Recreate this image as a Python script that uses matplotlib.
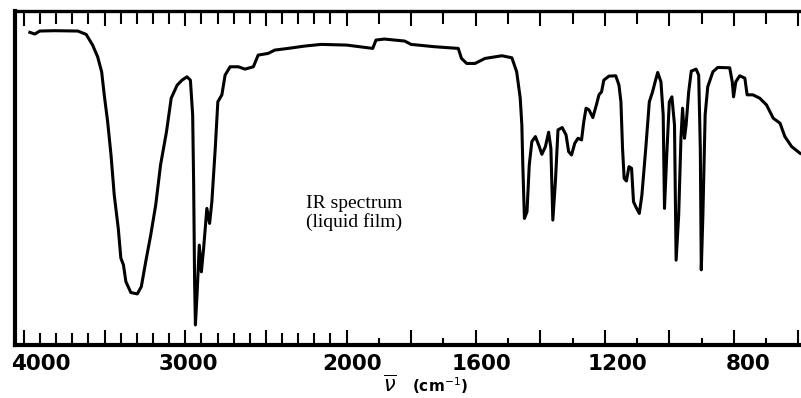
import numpy as np
import matplotlib
matplotlib.use("Agg")
import matplotlib.pyplot as plt

# wavenumber (cm-1) and % transmittance
wavenumber = [
    3963, 3932, 3902, 3809, 3666, 3614, 3574, 3543, 3518, 3502,
    3481, 3460, 3440, 3415, 3399, 3383, 3368, 3337, 3297, 3272,
    3245, 3214, 3183, 3153, 3116, 3087, 3050, 3020, 2989, 2968,
    2954, 2948, 2942, 2937, 2927, 2913, 2900, 2886, 2866, 2849,
    2835, 2814, 2798, 2773, 2753, 2722, 2671, 2630, 2578, 2548,
    2486, 2445, 2363, 2260, 2158, 2000, 1919, 1909, 1883, 1820,
    1800, 1727, 1654, 1644, 1628, 1602, 1571, 1519, 1488, 1473,
    1462, 1457, 1454, 1449, 1441, 1434, 1426, 1415, 1403, 1395,
    1384, 1374, 1367, 1361, 1353, 1345, 1332, 1320, 1312, 1303,
    1293, 1283, 1272, 1265, 1258, 1249, 1237, 1226, 1218, 1210,
    1203, 1187, 1166, 1156, 1150, 1145, 1140, 1133, 1125, 1117,
    1111, 1104, 1093, 1085, 1073, 1062, 1052, 1044, 1036, 1026,
    1019, 1015, 1008, 1000, 992, 984, 979, 971, 964, 959,
    953, 948, 940, 932, 917, 909, 904, 901, 896, 889,
    881, 865, 850, 813, 805, 801, 794, 782, 766, 759,
    741, 720, 699, 678, 657, 642, 621, 595,
]
transmittance = [
    93.6, 93.1, 94.0, 94.1, 94.0, 93.0, 89.8, 86.3, 81.8, 74.9,
    66.9, 56.9, 44.9, 34.9, 26.0, 24.0, 19.0, 15.7, 15.3, 17.5,
    24.9, 32.9, 41.9, 53.9, 63.9, 73.9, 77.8, 79.3, 80.3, 79.3,
    68.9, 48.9, 19.0, 6.0, 15.0, 29.9, 21.9, 29.0, 40.9, 36.4,
    42.9, 58.9, 72.8, 74.9, 80.8, 83.3, 83.3, 82.6, 83.3, 86.8,
    87.3, 88.3, 88.8, 89.5, 90.0, 89.8, 88.8, 91.3, 91.6, 91.0,
    90.0, 89.3, 88.8, 85.8, 84.3, 84.3, 85.8, 86.6, 86.0, 81.8,
    73.9, 65.9, 53.9, 37.9, 39.9, 53.9, 60.9, 62.4, 59.4, 57.1,
    59.4, 63.7, 58.9, 37.4, 48.9, 64.4, 65.1, 62.9, 57.9, 56.9,
    60.4, 61.9, 61.4, 66.9, 70.9, 70.4, 68.1, 71.9, 74.9, 75.8,
    79.3, 80.5, 80.6, 77.8, 72.8, 58.9, 49.9, 49.1, 53.4, 52.9,
    42.9, 41.4, 39.4, 44.9, 58.9, 72.8, 75.8, 78.8, 81.6, 78.8,
    68.9, 40.9, 56.9, 72.8, 74.3, 65.9, 25.4, 38.9, 61.9, 70.9,
    61.9, 65.9, 75.8, 82.0, 82.6, 80.8, 58.9, 22.5, 38.9, 68.9,
    77.3, 81.8, 83.1, 83.0, 78.8, 74.3, 78.8, 80.6, 79.9, 74.9,
    74.9, 73.9, 71.9, 67.9, 66.4, 62.4, 59.4, 57.4,
]

label_ticks = [4000, 3000, 2000, 1600, 1200, 800]
long_ticks = [4000, 3500, 3000, 2500, 2000, 1800, 1600, 1400, 1200, 1000, 800, 600]
left_ticks = [3900, 3800, 3700, 3600, 3400, 3300, 3200, 3100,
              2900, 2800, 2700, 2600, 2400, 2300, 2200, 2100]
right_ticks = [1900, 1700, 1500, 1300, 1100, 900, 700]

XLIM = (4055, 592)
RECT = [15 / 801, 53 / 398, 786 / 801, 334 / 398]


# chart paper: scale halves above 2000 cm-1
def fwd(wn):
    wn = np.asarray(wn, dtype=float)
    return np.where(wn >= 2000, (wn - 2000) / 2.0, wn - 2000)


def inv(u):
    u = np.asarray(u, dtype=float)
    return np.where(u >= 0, 2000 + 2.0 * u, 2000 + u)


def tick_overlay(fig, ticks, length, where):
    # extra axes only used to draw short ticks
    a = fig.add_axes(RECT, frameon=False)
    a.set_xscale('function', functions=(fwd, inv))
    a.set_xlim(*XLIM)
    a.set_xticks(ticks)
    a.set_yticks([])
    a.tick_params(axis='x', direction='in', length=length, width=1.5,
                  bottom=(where == 'bottom'), top=(where == 'top'),
                  labelbottom=False, labeltop=False)
    return a


fig = plt.figure(figsize=(8.01, 3.98), dpi=100)
ax = fig.add_axes(RECT)
ax.set_xscale('function', functions=(fwd, inv))
ax.set_xlim(*XLIM)
ax.set_ylim(0, 100)

ax.plot(wavenumber, transmittance, color='black', linewidth=2.2,
        solid_joinstyle='round')

ax.spines['right'].set_visible(False)
ax.spines['left'].set_linewidth(3)
ax.spines['bottom'].set_linewidth(3)
ax.spines['top'].set_linewidth(2.4)
ax.set_yticks([])

ax.set_xticks(long_ticks)
ax.set_xticks(left_ticks, minor=True)
ax.tick_params(axis='x', which='both', direction='in', width=1.5,
               bottom=True, top=True, labelbottom=False)
ax.tick_params(axis='x', which='major', length=11)
ax.tick_params(axis='x', which='minor', length=9)

tick_overlay(fig, right_ticks, 5, 'bottom')
tick_overlay(fig, right_ticks, 9, 'top')

# scan labels sit a bit to the right of their ticks
nudge = [12, 2, 4, 4, 9, 10]
for v, dx in zip(label_ticks, nudge):
    ax.annotate(str(v), xy=(v, 0), xycoords=('data', 'axes fraction'),
                xytext=(dx, -13.5), textcoords='offset points',
                ha='center', va='center', fontsize=15.5, fontweight='bold',
                annotation_clip=False)

fig.text(390 / 801, 1 - 385 / 398, r'$\overline{\nu}$', fontsize=15,
         ha='center', va='center')
fig.text(412 / 801, 1 - 386 / 398, '(cm$^{-1}$)', fontsize=11,
         fontweight='bold', ha='left', va='center')

fig.text(306 / 801, 1 - 213 / 398, 'IR spectrum\n(liquid film)',
         family='Liberation Serif', fontsize=14, linespacing=1.1,
         ha='left', va='center')

fig.savefig('out.png', dpi=100)
